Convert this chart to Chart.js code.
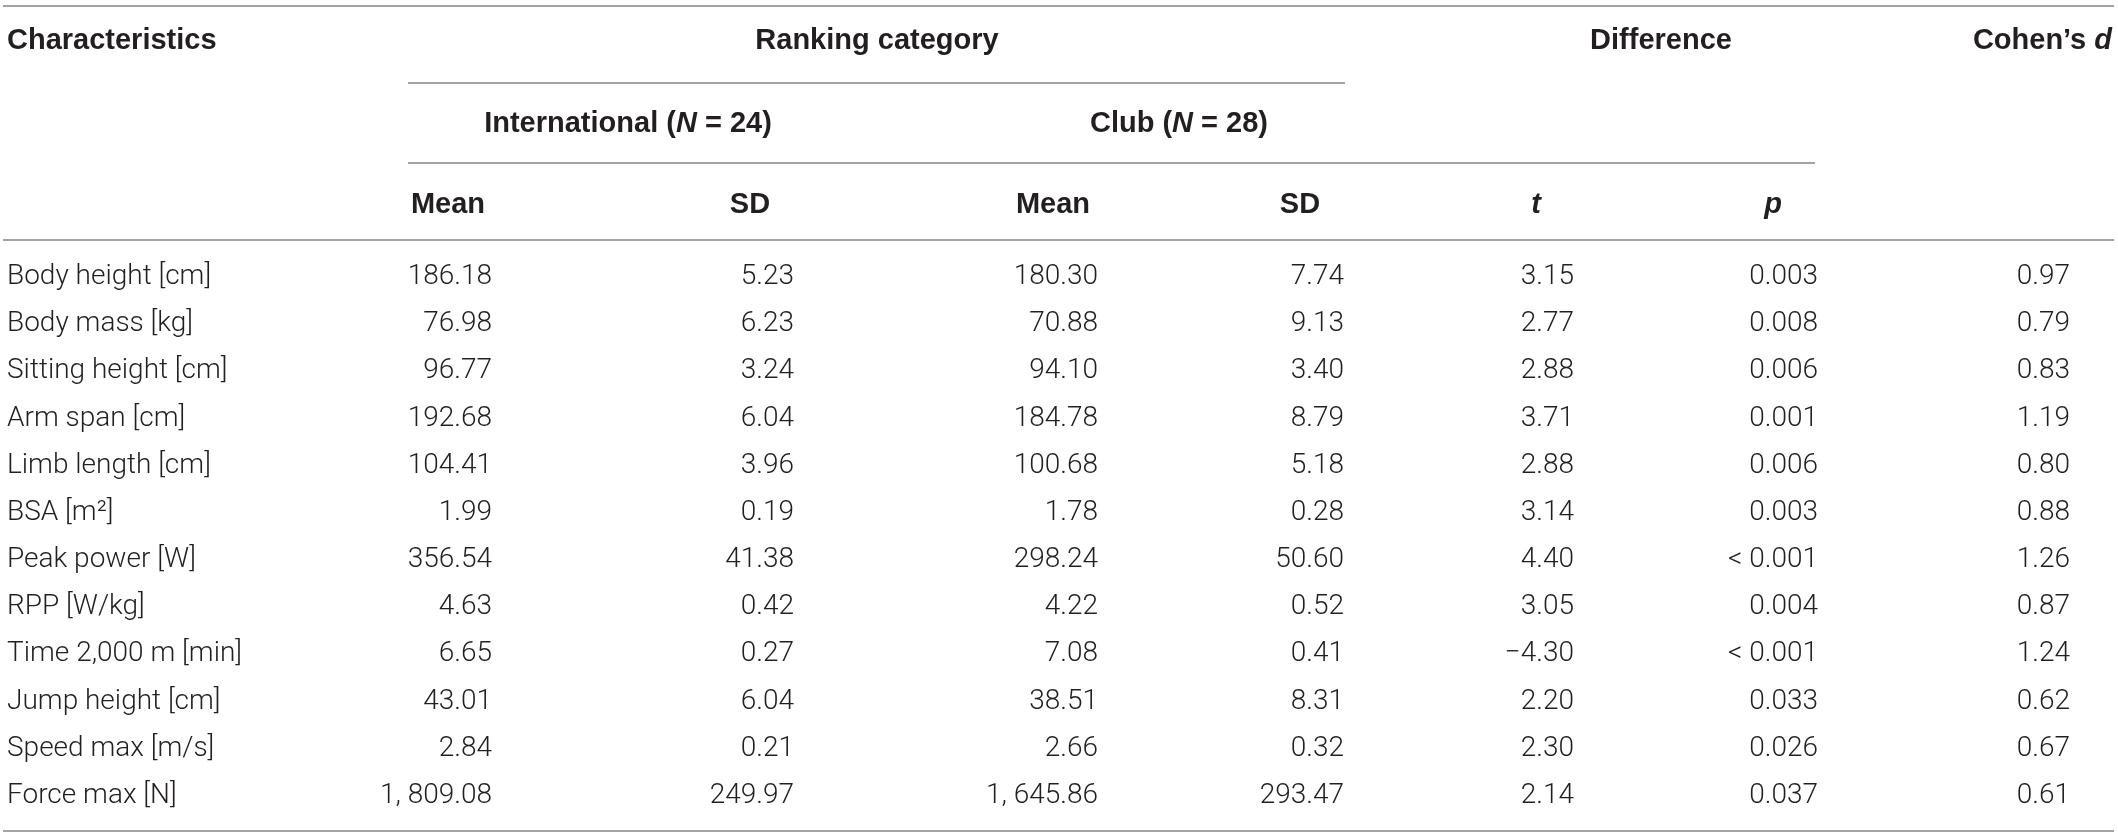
<!DOCTYPE html>
<html>
<head>
<meta charset="utf-8">
<script src="https://cdn.jsdelivr.net/npm/chart.js@4/dist/chart.umd.min.js"></script>
<style>
    html, body { margin: 0; padding: 0; background: #ffffff; }
    #wrap { width: 2118px; height: 838px; position: relative; }
</style>
</head>
<body>
<div id="wrap"><canvas id="tableChart"></canvas></div>
<script>
const characteristics = [
    "Body height [cm]", "Body mass [kg]", "Sitting height [cm]", "Arm span [cm]",
    "Limb length [cm]", "BSA [m\u00B2]", "Peak power [W]", "RPP [W/kg]",
    "Time 2,000 m [min]", "Jump height [cm]", "Speed max [m/s]", "Force max [N]"
];

const intlMean = [186.18, 76.98, 96.77, 192.68, 104.41, 1.99, 356.54, 4.63, 6.65, 43.01, 2.84, 1809.08];
const intlSd = [5.23, 6.23, 3.24, 6.04, 3.96, 0.19, 41.38, 0.42, 0.27, 6.04, 0.21, 249.97];
const clubMean = [180.30, 70.88, 94.10, 184.78, 100.68, 1.78, 298.24, 4.22, 7.08, 38.51, 2.66, 1645.86];
const clubSd = [7.74, 9.13, 3.40, 8.79, 5.18, 0.28, 50.60, 0.52, 0.41, 8.31, 0.32, 293.47];
const tValues = [3.15, 2.77, 2.88, 3.71, 2.88, 3.14, 4.40, 3.05, -4.30, 2.20, 2.30, 2.14];
const pValues = ["0.003", "0.008", "0.006", "0.001", "0.006", "0.003", "< 0.001", "0.004", "< 0.001", "0.033", "0.026", "0.037"];
const cohenD = [0.97, 0.79, 0.83, 1.19, 0.80, 0.88, 1.26, 0.87, 1.24, 0.62, 0.67, 0.61];

const groupLabels = ["International", "Club"];
const groupSizes = [24, 28];

// layout: x anchors in canvas units, y in row units (row 0 = first data row)
const columns = [
    { values: intlMean, x: 492 },
    { values: intlSd, x: 794 },
    { values: clubMean, x: 1098 },
    { values: clubSd, x: 1344 },
    { values: tValues, x: 1574 },
    { values: pValues, x: 1818 },
    { values: cohenD, x: 2070 }
];

const labelX = 7;

const headerRows = {
    top: -5.0,
    group: -3.25,
    sub: -1.53
};

const rules = [
    { y: -5.74, x0: 3, x1: 2114 },
    { y: -4.12, x0: 408, x1: 1345 },
    { y: -2.42, x0: 408, x1: 1815 },
    { y: -0.78, x0: 3, x1: 2114 },
    { y: 11.74, x0: 3, x1: 2114 }
];

const TEXT = "#231f20";
const RULE = "#a3a3a3";
const BODY_FONT = "300 28px Roboto, 'Liberation Sans', sans-serif";
const HEAD_FONT = "bold 29px 'Liberation Sans', Arial, sans-serif";
const HEAD_ITALIC = "italic bold 29px 'Liberation Sans', Arial, sans-serif";

function formatNumber(v, digits) {

    let s = Math.abs(v).toFixed(digits);
    let parts = s.split(".");
    let intPart = parts[0].replace(/\B(?=(\d{3})+(?!\d))/g, ", ");
    s = intPart + (parts.length > 1 ? "." + parts[1] : "");

    return (v < 0 ? "\u2212" : "") + s;
}

function cellText(v) {
    if (typeof v === "string") return v;
    return formatNumber(v, 2);
}

// draw a run of text pieces, some in italic
function drawRuns(ctx, runs, x, y, align) {

    let total = 0;
    runs.forEach(r => {
        ctx.font = r.italic ? HEAD_ITALIC : HEAD_FONT;
        r.w = ctx.measureText(r.text).width;
        total += r.w;
    });

    let start = x;
    if (align === "center") start = x - total / 2;
    if (align === "right") start = x - total;

    ctx.textAlign = "left";
    runs.forEach(r => {
        ctx.font = r.italic ? HEAD_ITALIC : HEAD_FONT;
        ctx.fillText(r.text, start, y);
        start += r.w;
    });
}

const tablePlugin = {
    id: "tablePlugin",
    afterDatasetsDraw(chart) {

        const ctx = chart.ctx;
        const xs = chart.scales.x;
        const ys = chart.scales.y;

        ctx.save();

        // rules
        ctx.strokeStyle = RULE;
        ctx.lineWidth = 2;
        rules.forEach(r => {
            const py = Math.round(ys.getPixelForValue(r.y));
            ctx.beginPath();
            ctx.moveTo(xs.getPixelForValue(r.x0), py);
            ctx.lineTo(xs.getPixelForValue(r.x1), py);
            ctx.stroke();
        });

        ctx.fillStyle = TEXT;
        ctx.textBaseline = "middle";

        // header rows
        const yTop = ys.getPixelForValue(headerRows.top);
        const yGroup = ys.getPixelForValue(headerRows.group);
        const ySub = ys.getPixelForValue(headerRows.sub);

        drawRuns(ctx, [{ text: "Characteristics" }], xs.getPixelForValue(labelX), yTop, "left");
        drawRuns(ctx, [{ text: "Ranking category" }], xs.getPixelForValue(877), yTop, "center");
        drawRuns(ctx, [{ text: "Difference" }], xs.getPixelForValue(1661), yTop, "center");
        drawRuns(ctx, [{ text: "Cohen\u2019s " }, { text: "d", italic: true }], xs.getPixelForValue(2112), yTop, "right");

        const groupCenters = [628, 1179];
        groupLabels.forEach((g, i) => {
            drawRuns(ctx, [
                { text: g + " (" },
                { text: "N", italic: true },
                { text: " = " + groupSizes[i] + ")" }
            ], xs.getPixelForValue(groupCenters[i]), yGroup, "center");
        });

        const subHeads = [
            { runs: [{ text: "Mean" }], x: 448 },
            { runs: [{ text: "SD" }], x: 750 },
            { runs: [{ text: "Mean" }], x: 1053 },
            { runs: [{ text: "SD" }], x: 1300 },
            { runs: [{ text: "t", italic: true }], x: 1536 },
            { runs: [{ text: "p", italic: true }], x: 1773 }
        ];
        subHeads.forEach(h => drawRuns(ctx, h.runs, xs.getPixelForValue(h.x), ySub, "center"));

        // body cells, placed by the dataset points
        ctx.font = BODY_FONT;
        chart.data.datasets.forEach((ds, di) => {
            const meta = chart.getDatasetMeta(di);
            meta.data.forEach((pt, i) => {
                ctx.textAlign = ds.align;
                ctx.fillText(ds.texts[i], pt.x, pt.y);
            });
        });

        ctx.restore();
    }
};

const datasets = [
    {
        label: "Characteristics",
        data: characteristics.map((c, i) => ({ x: labelX, y: i })),
        texts: characteristics,
        align: "left",
        pointRadius: 0
    }
].concat(columns.map(col => ({
    label: "col",
    data: col.values.map((v, i) => ({ x: col.x, y: i })),
    texts: col.values.map(cellText),
    align: "right",
    pointRadius: 0
})));

new Chart(document.getElementById("tableChart"), {
    type: "scatter",
    data: { datasets },
    options: {
        responsive: true,
        maintainAspectRatio: false,
        animation: false,
        devicePixelRatio: 1,
        layout: { padding: 0 },
        plugins: {
            legend: { display: false },
            tooltip: { enabled: false }
        },
        scales: {
            x: { type: "linear", display: false, min: 0, max: 2118 },
            y: { type: "linear", display: false, reverse: true, min: -5.871, max: 11.891 }
        }
    },
    plugins: [tablePlugin]
});
</script>
</body>
</html>
